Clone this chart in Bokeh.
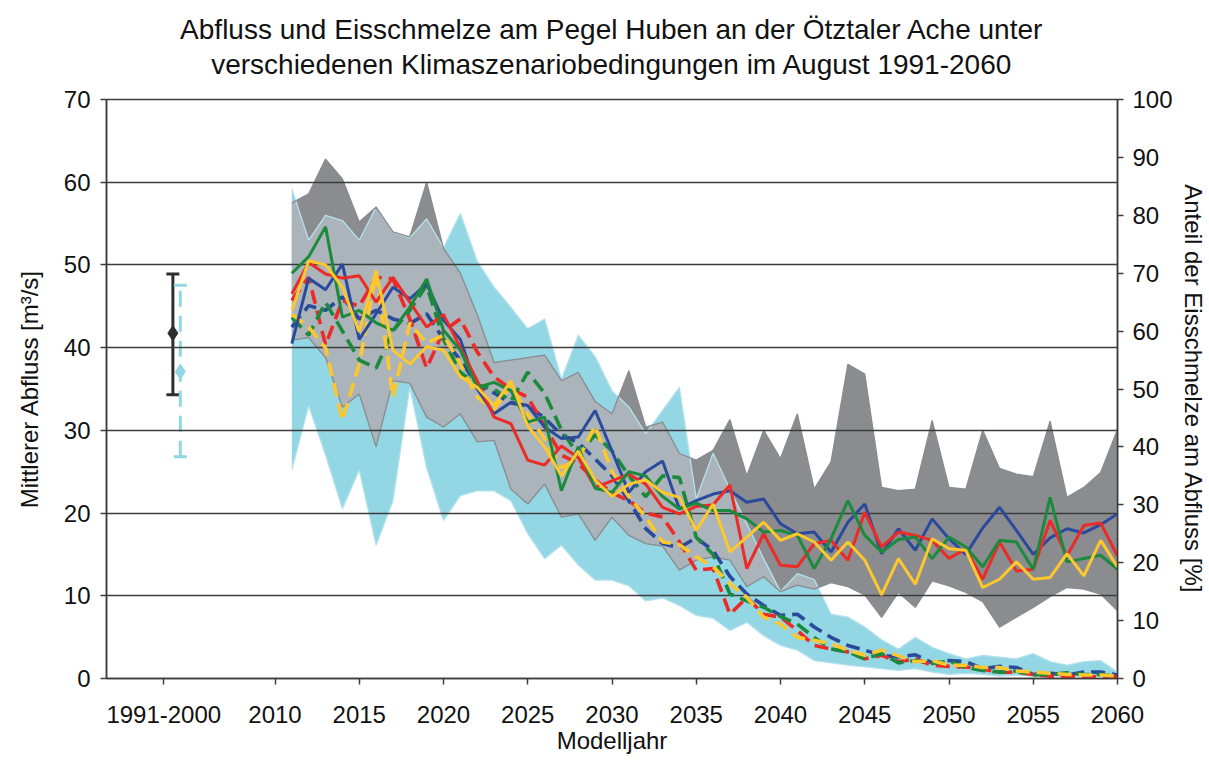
from bokeh.plotting import figure
from bokeh.models import (Range1d, LinearAxis, FixedTicker, Title, Whisker,
                          TeeHead, ColumnDataSource)
from bokeh.embed import file_html
from bokeh.resources import INLINE
import numpy as np

FONT = "Liberation Sans"

# ---------------- data ----------------
years = list(range(2011, 2061))

# discharge range (m3/s)
q_max = [57.5, 58.6, 62.8, 60.4, 55.2, 57.0, 54.0, 53.4, 60.0, 52.0,
         49.0, 44.0, 38.2, 38.5, 38.8, 39.1, 36.0, 37.0, 33.5, 32.0,
         37.2, 30.4, 31.0, 27.2, 26.4, 27.6, 31.3, 24.5, 30.0, 26.6,
         32.0, 22.9, 26.2, 38.0, 36.8, 23.1, 22.7, 22.9, 31.2, 23.1,
         22.9, 30.0, 25.4, 24.7, 24.4, 31.1, 21.9, 23.1, 24.9, 30.1]
q_min = [40.9, 41.2, 38.8, 32.8, 34.4, 28.0, 36.0, 35.7, 31.6, 30.4,
         32.0, 28.6, 28.8, 22.9, 21.1, 23.5, 19.5, 19.9, 16.7, 19.5,
         17.3, 16.3, 16.0, 13.1, 14.3, 14.7, 14.3, 11.1, 12.3, 10.5,
         11.3, 10.8, 11.6, 11.1, 10.1, 7.4, 10.4, 8.6, 11.8, 11.2,
         10.4, 9.3, 6.2, 7.4, 8.6, 9.9, 11.0, 10.8, 10.2, 8.2]

# ice-melt share range (%)
ice_max = [84.6, 75.7, 80.0, 79.1, 75.7, 81.4, 77.1, 76.1, 79.4, 74.4,
           80.3, 72.1, 67.6, 64.1, 60.4, 62.1, 51.7, 59.3, 55.6, 49.7,
           46.9, 42.3, 46.3, 50.3, 31.0, 38.9, 32.7, 26.7, 20.7, 15.0,
           18.1, 17.1, 11.1, 10.6, 8.9, 6.7, 5.1, 7.1, 5.4, 4.3,
           3.4, 4.0, 3.7, 3.4, 4.3, 2.9, 2.3, 2.9, 3.1, 1.1]
ice_min = [36.1, 47.1, 38.6, 29.3, 36.0, 23.0, 30.7, 50.3, 36.4, 27.3,
           31.6, 32.4, 32.4, 30.7, 25.0, 20.7, 23.0, 19.6, 17.0, 17.0,
           16.0, 13.4, 13.9, 12.6, 10.9, 10.4, 8.3, 9.7, 7.4, 5.7,
           4.9, 3.1, 2.7, 2.3, 2.0, 1.7, 1.4, 1.7, 1.1, 0.7,
           0.9, 0.7, 0.4, 0.6, 0.4, 0.3, 0.4, 0.3, 0.3, 0.1]

# mean discharge per scenario (m3/s)
q_blue = [40.5, 48.4, 47.0, 50.1, 41.0, 44.1, 47.3, 45.9, 47.7, 43.3,
          41.0, 35.0, 32.0, 33.4, 33.0, 30.4, 29.0, 29.2, 32.4, 27.5,
          22.5, 25.0, 26.3, 20.5, 21.5, 22.3, 22.7, 21.3, 21.7, 18.7,
          17.5, 17.7, 15.3, 18.9, 21.1, 15.1, 18.1, 15.5, 19.3, 16.9,
          15.0, 18.2, 20.7, 17.9, 15.0, 17.0, 18.1, 17.6, 18.6, 19.9]
q_red = [46.5, 50.3, 48.9, 48.4, 48.7, 45.5, 48.5, 45.5, 42.5, 44.0,
         40.0, 36.0, 31.6, 30.8, 26.4, 25.8, 28.1, 26.7, 23.1, 23.9,
         24.7, 23.5, 20.7, 19.9, 20.8, 21.0, 23.4, 13.3, 17.5, 13.7,
         13.5, 16.3, 16.7, 14.3, 20.1, 15.9, 17.7, 17.3, 16.7, 14.5,
         15.7, 12.0, 16.5, 13.0, 13.2, 19.1, 14.8, 18.5, 18.8, 14.8]
q_green = [49.0, 51.0, 54.6, 43.7, 44.5, 43.0, 42.1, 44.9, 48.3, 42.1,
           39.7, 35.2, 35.8, 34.8, 31.0, 31.6, 22.7, 28.0, 23.0, 22.5,
           25.0, 24.5, 22.0, 20.5, 21.2, 20.3, 20.3, 19.3, 17.7, 17.9,
           17.3, 13.3, 16.9, 21.5, 17.3, 15.3, 16.8, 17.1, 14.5, 17.1,
           15.9, 13.5, 16.7, 16.5, 13.2, 21.9, 14.1, 14.5, 14.9, 13.2]
q_yellow = [44.5, 50.5, 50.0, 47.3, 41.9, 49.3, 39.7, 38.0, 40.1, 39.7,
            36.5, 35.2, 33.0, 36.0, 30.5, 28.0, 24.5, 27.5, 24.0, 22.0,
            23.5, 24.0, 22.5, 21.9, 17.9, 21.1, 15.3, 17.1, 18.9, 16.7,
            17.5, 16.5, 14.3, 16.5, 14.3, 10.1, 14.5, 11.4, 16.9, 15.7,
            15.5, 11.0, 12.0, 14.1, 12.0, 12.2, 15.1, 12.4, 16.7, 13.5]

# ice-melt share per scenario (%)
i_blue = [60.7, 64.4, 63.6, 65.9, 62.1, 63.6, 62.1, 61.3, 63.0, 58.6,
          55.0, 50.7, 49.3, 47.6, 47.1, 45.0, 42.1, 40.7, 37.9, 35.0,
          30.7, 25.9, 23.3, 22.6, 24.3, 22.1, 17.6, 14.6, 12.6, 10.9,
          11.1, 8.9, 7.1, 5.7, 4.9, 4.0, 3.7, 4.1, 2.7, 3.1,
          2.9, 1.7, 2.1, 1.9, 0.7, 0.9, 0.6, 1.1, 1.1, 0.6]
i_red = [65.3, 69.3, 57.6, 65.3, 64.3, 69.3, 69.0, 62.1, 53.6, 60.0,
         62.1, 56.4, 52.1, 50.0, 48.6, 43.6, 38.6, 37.1, 34.3, 32.1,
         30.7, 28.6, 27.9, 23.6, 18.7, 19.0, 11.1, 14.0, 11.1, 10.6,
         8.3, 5.7, 5.1, 4.6, 3.4, 4.0, 2.9, 3.4, 2.3, 2.1,
         2.0, 1.6, 1.1, 1.1, 0.7, 0.4, 0.4, 0.3, 0.3, 0.3]
i_green = [62.4, 59.3, 65.0, 60.0, 55.0, 53.6, 60.0, 63.6, 67.9, 58.6,
           52.9, 50.7, 50.0, 47.9, 52.9, 49.3, 42.9, 38.6, 42.1, 39.3,
           35.0, 31.4, 35.0, 34.7, 24.4, 21.4, 14.6, 13.4, 12.3, 10.7,
           9.4, 7.1, 5.1, 4.6, 3.4, 4.3, 2.7, 3.1, 2.6, 3.0,
           1.9, 1.4, 1.1, 1.3, 0.6, 0.7, 1.0, 0.7, 0.7, 0.4]
i_yellow = [62.9, 60.7, 57.1, 44.6, 54.3, 70.0, 48.6, 61.4, 57.9, 59.3,
            54.3, 48.6, 46.4, 50.7, 45.7, 41.4, 36.4, 37.9, 43.6, 35.7,
            31.4, 27.9, 23.6, 23.1, 21.0, 19.3, 16.4, 14.0, 10.6, 9.4,
            7.1, 6.6, 6.0, 4.9, 4.0, 4.9, 3.9, 2.9, 3.1, 2.3,
            2.3, 1.9, 1.9, 1.3, 1.1, 0.9, 0.7, 0.6, 0.6, 0.4]

# reference period 1991-2000
ref_label = "1991-2000"
ref_pos = 2003.4
ref_q = {"mean": 41.75, "lo": 34.3, "hi": 48.9}
ref_ice = {"mean": 53.0, "lo": 38.3, "hi": 67.9}

title_1 = "Abfluss und Eisschmelze am Pegel Huben an der Ötztaler Ache unter"
title_2 = "verschiedenen Klimaszenariobedingungen im August 1991-2060"

# ---------------- styling ----------------
C_BLUE, C_RED, C_GREEN, C_YEL = "#2c4a9c", "#ec2a26", "#1b8a3d", "#fdc72e"
C_GRAY, C_CYAN, C_OVER = "#8b8c90", "#93d6e4", "#aab4ba"
C_GRAY_EDGE, C_CYAN_EDGE = "#8a8b8f", "#b4e2ec"
AX = "#3c3c3c"

p = figure(width=1209, height=762, x_range=Range1d(2000, 2060), y_range=Range1d(0, 70),
           output_backend="svg", toolbar_location=None,
           min_border_left=106, min_border_right=89, min_border_top=99, min_border_bottom=84,
           background_fill_color="white", border_fill_color="white")
p.extra_y_ranges = {"pct": Range1d(0, 100)}
p.xgrid.visible = False
p.ygrid.visible = False
p.outline_line_color = AX
p.outline_line_width = 1.5

# bands
yrs = np.array(years, dtype=float)
p.varea(x=years, y1=q_min, y2=q_max, fill_color=C_GRAY)
p.varea(x=years, y1=ice_min, y2=ice_max, fill_color=C_CYAN, y_range_name="pct")

# overlap of both bands (drawn lighter)
xs = np.linspace(2011, 2060, 49 * 40 + 1)
scale = 70.0 / 100.0
gt = np.interp(xs, yrs, q_max)
gb = np.interp(xs, yrs, q_min)
ct = np.interp(xs, yrs, np.array(ice_max) * scale)
cb = np.interp(xs, yrs, np.array(ice_min) * scale)
lo = np.maximum(gb, cb)
hi = np.maximum(np.minimum(gt, ct), lo)
p.varea(x=xs, y1=lo, y2=hi, fill_color=C_OVER)

# band edges
p.line(years, ice_max, y_range_name="pct", line_color=C_CYAN_EDGE, line_width=1.3)
p.line(years, ice_min, y_range_name="pct", line_color=C_CYAN_EDGE, line_width=1.3)
p.line(years, q_max, line_color=C_GRAY_EDGE, line_width=1.3)
p.line(years, q_min, line_color=C_GRAY_EDGE, line_width=1.3)

# grid lines over the bands
p.hspan(y=[10, 20, 30, 40, 50, 60], line_color=AX, line_width=1.6)

# ice-melt share (dashed, right axis)
for vals, col in [(i_blue, C_BLUE), (i_red, C_RED), (i_green, C_GREEN), (i_yellow, C_YEL)]:
    p.line(years, vals, y_range_name="pct", line_color=col, line_width=3.6, line_dash="14 7")

# discharge (solid, left axis)
for vals, col in [(q_blue, C_BLUE), (q_red, C_RED), (q_green, C_GREEN), (q_yellow, C_YEL)]:
    p.line(years, vals, line_color=col, line_width=3)

# reference period whiskers
x_q, x_i = ref_pos + 0.54, ref_pos + 0.98
src_q = ColumnDataSource(dict(x=[x_q], lo=[ref_q["lo"]], hi=[ref_q["hi"]], m=[ref_q["mean"]]))
src_i = ColumnDataSource(dict(x=[x_i], lo=[ref_ice["lo"]], hi=[ref_ice["hi"]], m=[ref_ice["mean"]]))
p.add_layout(Whisker(source=src_q, base="x", lower="lo", upper="hi", dimension="height",
                     line_color="#2e2e2e", line_width=3,
                     upper_head=TeeHead(size=13, line_color="#2e2e2e", line_width=3),
                     lower_head=TeeHead(size=13, line_color="#2e2e2e", line_width=3)))
p.add_layout(Whisker(source=src_i, base="x", lower="lo", upper="hi", dimension="height",
                     y_range_name="pct", line_color=C_CYAN, line_width=3, line_dash="16 9",
                     upper_head=TeeHead(size=13, line_color=C_CYAN, line_width=3),
                     lower_head=TeeHead(size=13, line_color=C_CYAN, line_width=3)))
p.scatter("x", "m", source=src_q, marker="diamond", size=15, fill_color="#2e2e2e", line_color="#2e2e2e")
p.scatter("x", "m", source=src_i, marker="diamond", size=15, fill_color=C_CYAN, line_color=C_CYAN,
          y_range_name="pct")

# axes
right = LinearAxis(y_range_name="pct", axis_label="Anteil der Eisschmelze am Abfluss [%]")
p.add_layout(right, "right")
p.xaxis.ticker = FixedTicker(ticks=[ref_pos] + list(range(2010, 2061, 5)))
p.xaxis.major_label_overrides = {ref_pos: ref_label}
p.yaxis[0].ticker = FixedTicker(ticks=list(range(0, 71, 10)))
right.ticker = FixedTicker(ticks=list(range(0, 101, 10)))
p.xaxis.axis_label = "Modelljahr"
p.yaxis[0].axis_label = "Mittlerer Abfluss [m³/s]"

for ax in [p.xaxis[0], p.yaxis[0], right]:
    ax.major_label_text_font = FONT
    ax.major_label_text_font_size = "24px"
    ax.major_label_text_color = "#111111"
    ax.axis_label_text_font = FONT
    ax.axis_label_text_font_size = "24px"
    ax.axis_label_text_font_style = "normal"
    ax.axis_label_text_color = "#111111"
    ax.axis_line_color = AX
    ax.axis_line_width = 1.5
    ax.major_tick_line_color = AX
    ax.major_tick_line_width = 1.5
    ax.major_tick_out = 6
    ax.major_tick_in = 0
    ax.minor_tick_out = 0
    ax.minor_tick_in = 0
p.xaxis[0].major_label_standoff = 21
p.xaxis[0].axis_label_standoff = 1
p.yaxis[0].major_label_standoff = 10
p.yaxis[0].axis_label_standoff = 18
right.major_label_standoff = 9
right.axis_label_standoff = 4

# titles: the added title sits nearest the frame, p.title above it
p.title.text = title_1
p.title.align = "center"
p.title.text_font = FONT
p.title.text_font_size = "28px"
p.title.text_font_style = "normal"
p.title.text_color = "#111111"
p.title.standoff = -35
p.add_layout(Title(text=title_2, align="center", text_font=FONT, text_font_size="28px",
                   text_font_style="normal", text_color="#111111", standoff=39), "above")

open("out.html", "w").write(file_html(p, INLINE))
